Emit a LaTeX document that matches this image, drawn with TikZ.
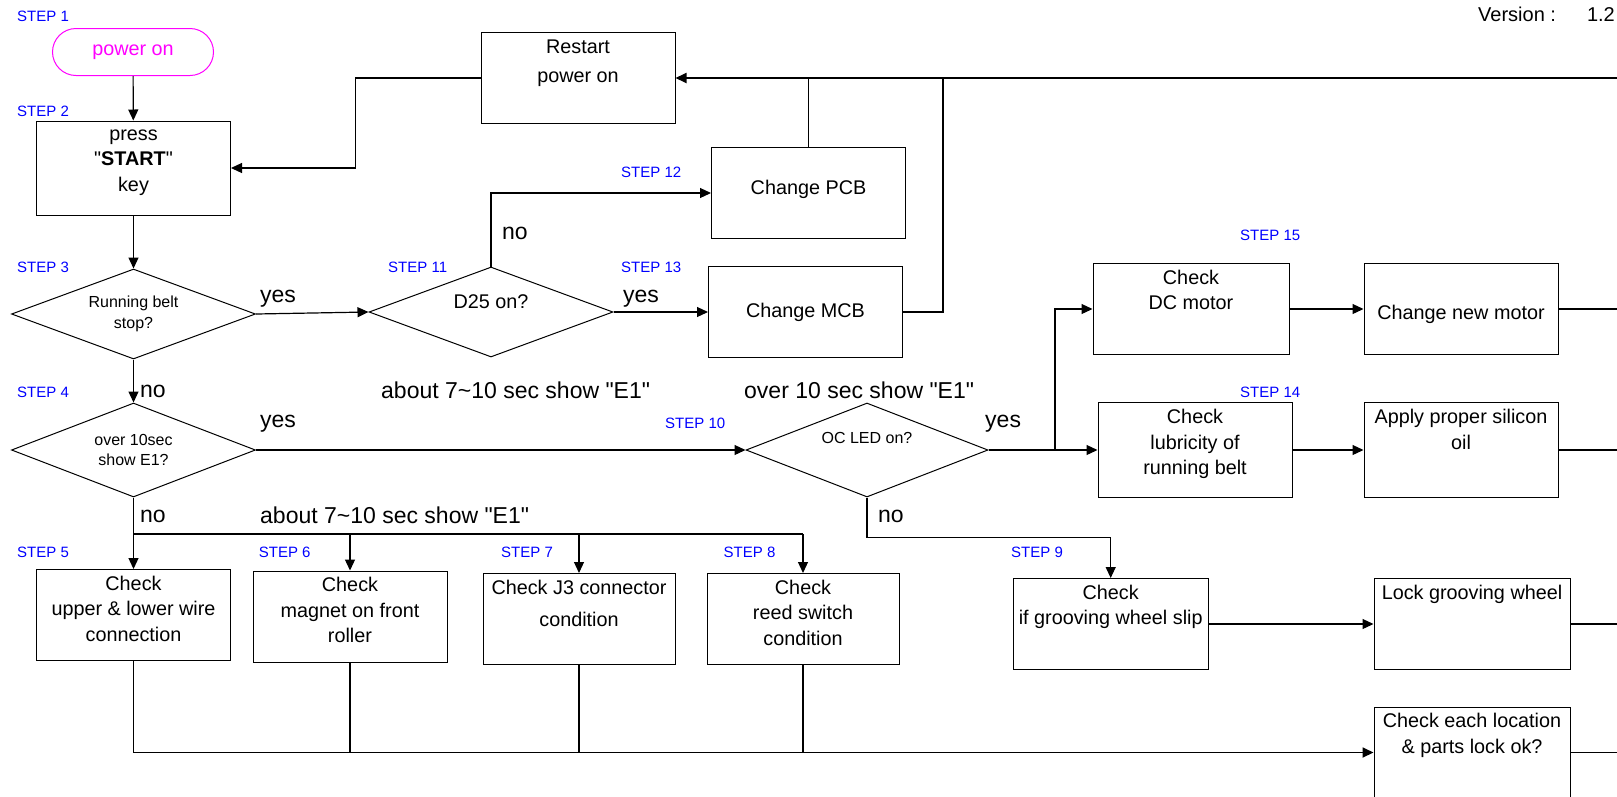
\documentclass[tikz,border=0pt]{standalone}
\usepackage{fontspec}
\setmainfont{Liberation Sans}
\usetikzlibrary{shapes.geometric,arrows.meta,positioning}

\definecolor{stepblue}{RGB}{0,0,255}
\definecolor{pwrmag}{RGB}{255,0,255}
\newcommand\boxfont{\fontsize{19.8}{25.5}\selectfont}
\newcommand\diafont{\fontsize{16}{20.5}\selectfont}
\newcommand\stepfont{\fontsize{15}{18}\selectfont}
\newcommand\notefont{\fontsize{23}{27}\selectfont}
\newcommand\dq{\textquotedbl}

\begin{document}
\begin{tikzpicture}[x=1pt,y=-1pt,
    box/.style={draw, line width=1pt, minimum width=194pt, minimum height=91pt, inner sep=0pt, align=center, font=\boxfont},
    boxtxt/.style={inner sep=0pt, align=center, font=\boxfont},
    decision/.style={draw, diamond, aspect=2.7, line width=1pt, minimum width=244pt, minimum height=92pt, inner sep=0pt, align=center, font=\diafont},
    steplbl/.style={anchor=west, inner sep=0pt, text=stepblue, font=\stepfont},
    note/.style={anchor=west, inner sep=0pt, font=\notefont},
    link/.style={line width=1.2pt},
    heavy/.style={line width=1.8pt},
    arr/.style={-{Triangle[length=11pt,width=10pt]}}]

    \path[use as bounding box, fill=white] (0,0) rectangle (1617,796);

    % left column
    \node[draw=pwrmag, text=pwrmag, line width=1pt, rounded corners=23.5pt, minimum width=161pt, minimum height=47pt, font=\boxfont] (pwr) at (133,52) {power on};
    \node[box, minimum height=94pt] (start) at (133.5,168) {};
    \node[boxtxt, below=9pt of start.north] (starttxt) {press\\\dq\textbf{START}\dq\\key};
    \node[decision, minimum height=90pt] (belt) at (133.5,314) {Running belt\\stop?};
    \node[decision, minimum height=94pt] (tensec) at (133.5,450) {over 10sec\\show E1?};

    % restart and the board checks
    \node[box] (restart) at (578,78) {};
    \node[boxtxt, below=8pt of restart.north] (restarttxt) {Restart\\[3pt]power on};
    \node[decision, minimum height=90pt, font=\boxfont, text depth=20pt] (dtwofive) at (491,312) {D25 on?};
    \node[box, text depth=12pt] (pcb) at (808.5,193) {Change PCB};
    \node[box] (mcb) at (805.5,312) {Change MCB};

    % over current branch
    \node[decision, minimum width=242pt, minimum height=94pt, text depth=24pt] (oc) at (867,450) {OC LED on?};
    \node[box, minimum width=196pt] (dcmotor) at (1191,309) {};
    \node[boxtxt, below=6.5pt of dcmotor.north] (dcmotortxt) {Check\\DC motor};
    \node[box, text height=26pt] (newmotor) at (1461,309) {Change new motor};
    \node[box, minimum height=95pt] (lub) at (1195,450) {};
    \node[boxtxt, below=7pt of lub.north] (lubtxt) {Check\\lubricity of\\running belt};
    \node[box, minimum height=95pt] (oil) at (1461,450) {};
    \node[boxtxt, below=7pt of oil.north] (oiltxt) {Apply proper silicon\\oil};

    % sensor checks
    \node[box] (wire) at (133.5,615) {};
    \node[boxtxt, below=6.5pt of wire.north] (wiretxt) {Check\\upper \& lower wire\\connection};
    \node[box] (magnet) at (350,616.5) {};
    \node[boxtxt, below=6.5pt of magnet.north] (magnettxt) {Check\\magnet on front\\roller};
    \node[box, minimum width=192pt] (jthree) at (579,619) {};
    \node[boxtxt, below=7pt of jthree.north] (jthreetxt) {Check J3 connector\\[6pt]condition};
    \node[box, minimum width=192pt] (reed) at (803,619) {};
    \node[boxtxt, below=6.5pt of reed.north] (reedtxt) {Check\\reed switch\\condition};
    \node[box, minimum width=195pt] (slip) at (1110.7,624) {};
    \node[boxtxt, below=6.5pt of slip.north] (sliptxt) {Check\\if grooving wheel slip};
    \node[box, minimum width=196pt] (lock) at (1472,624) {};
    \node[boxtxt, below=7pt of lock.north] (locktxt) {Lock grooving wheel};
    \node[box, minimum width=196pt] (each) at (1472,752.5) {};
    \node[boxtxt, below=6.5pt of each.north] (eachtxt) {Check each location\\\& parts lock ok?};

    % connectors
    \coordinate (topend) at (1617,78);
    \coordinate (fork) at (1055,450);
    \coordinate (split) at (133.5,534);

    \draw[link, arr] (pwr) -- (start);
    \draw[link, arr] (start) -- (belt);
    \draw[link, arr] (belt) -- (tensec);
    \draw[link, arr] (belt.east) -- (dtwofive.west);
    \draw[link, arr] (dtwofive.north) |- (pcb.west);
    \draw[link, arr] (dtwofive.east) -- (mcb.west);
    \draw[heavy, arr] (topend) -- (restart.east);
    \draw[link] (pcb.north) -- (pcb.north |- restart.east);
    \draw[link] (mcb.east) -| ([xshift=40pt]mcb.east |- restart.east);
    \draw[link, arr] (restart.west) -- ++(-125,0) |- (start.east);

    \draw[link, arr] (tensec.east) -- (oc.west);
    \draw[link] (oc.east) -- (fork);
    \draw[link, arr] (fork) |- (dcmotor.west);
    \draw[link, arr] (fork) -- (lub.west);
    \draw[link, arr] (dcmotor) -- (newmotor);
    \draw[link, arr] (lub) -- (oil);
    \draw[link, arr] (oc.south) -- ++(0,40) -| (slip.north);
    \draw[link, arr] (slip.east) -- (lock.west);

    \draw[link, arr] (tensec.south) -- (wire.north);
    \draw[heavy] (split) -- (split -| reed.north);
    \foreach \b in {magnet,jthree,reed}
        \draw[link, arr] (split -| \b.north) -- (\b.north);
    \draw[heavy, arr] (wire.south) |- (each.west);
    \foreach \b in {magnet,jthree,reed}
        \draw[link] (\b.south) -- (\b.south |- each.west);

    \foreach \b in {newmotor,oil,lock,each}
        \draw[link] (\b.east) -- (\b.east -| topend);

    % step labels
    \foreach \n/\x/\y in {1/17/16.5, 2/17/111, 3/17/267, 4/17/392, 5/17/552,
        6/258.7/552, 7/501/552, 8/723.5/552, 9/1011/552, 10/665/423,
        11/388/267, 12/621/172, 13/621/267, 14/1240/392, 15/1240/235.7}
        \node[steplbl] (step\n) at (\x,\y) {STEP \n};

    % answers and notes
    \node[note] (yesbelt) at (260,299) {yes};
    \node[note] (yesdtwofive) at (623,299) {yes};
    \node[note] (yestensec) at (260,424) {yes};
    \node[note] (yesoc) at (985,424) {yes};
    \node[note] (nobelt) at (140,391) {no};
    \node[note] (nodtwofive) at (502,233) {no};
    \node[note] (notensec) at (140,516) {no};
    \node[note] (nooc) at (878,516) {no};
    \node[note] (timeup) at (381,390) {about 7\textasciitilde10 sec show \dq E1\dq};
    \node[note] (timelow) at (260,515) {about 7\textasciitilde10 sec show \dq E1\dq};
    \node[note] (timeover) at (744,390) {over 10 sec show \dq E1\dq};
    \node[anchor=west, inner sep=0pt, font=\fontsize{20}{23}\selectfont] (version) at (1478,14) {Version :\hspace{31pt}1.2};
\end{tikzpicture}
\end{document}
